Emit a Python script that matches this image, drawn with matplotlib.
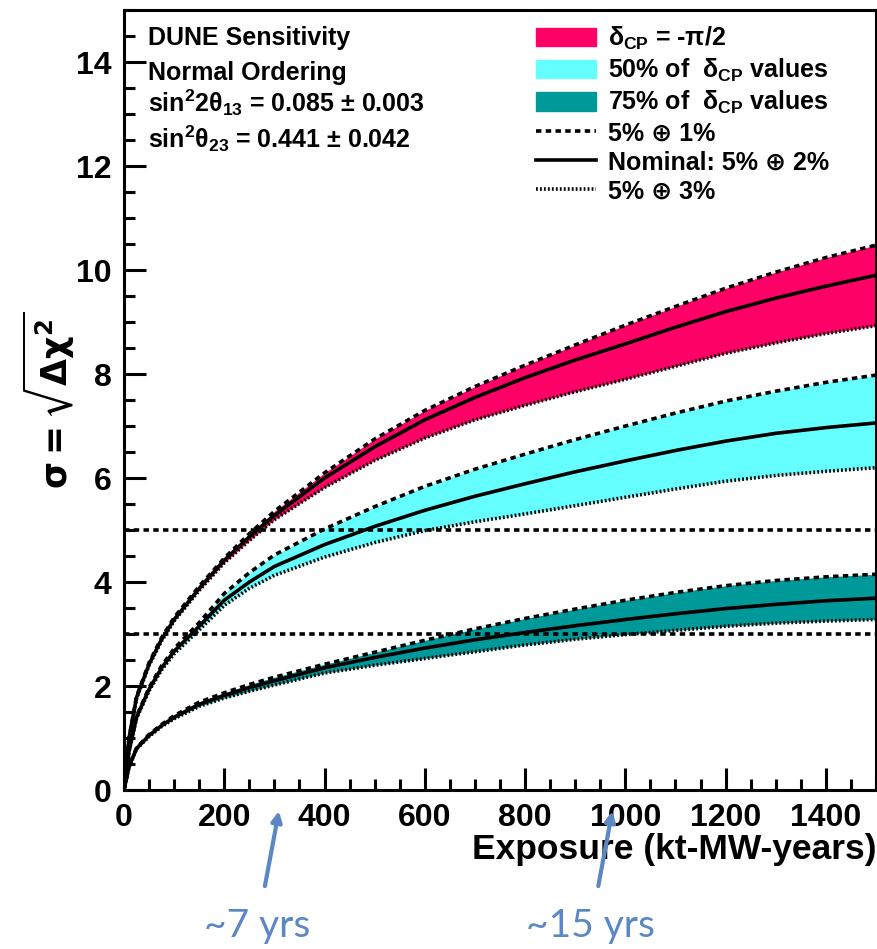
import numpy as np
import matplotlib
matplotlib.use('Agg')
import matplotlib.pyplot as plt
from matplotlib.patches import Patch
from matplotlib.lines import Line2D
from matplotlib.ticker import MultipleLocator

# font stile ROOT (Helvetica bold)
plt.rcParams['font.family'] = ['Liberation Sans', 'DejaVu Sans']
plt.rcParams['font.weight'] = 'bold'
plt.rcParams['axes.labelweight'] = 'bold'
plt.rcParams['mathtext.fontset'] = 'custom'
plt.rcParams['mathtext.rm'] = 'Liberation Sans:bold'
plt.rcParams['mathtext.it'] = 'Liberation Sans:bold'
plt.rcParams['mathtext.bf'] = 'Liberation Sans:bold'
plt.rcParams['mathtext.sf'] = 'Liberation Sans:bold'

# esposizione (kt-MW-anni)
exposure = [0, 10, 25, 50, 75, 100, 150, 200, 250, 300, 400, 500, 600, 700,
            800, 900, 1000, 1100, 1200, 1300, 1400, 1500]

# deltaCP = -pi/2
red_dashed = [0, 1.0, 1.8, 2.45, 2.93, 3.32, 3.92, 4.46, 4.93, 5.36, 6.1, 6.75,
              7.3, 7.76, 8.17, 8.56, 8.94, 9.3, 9.65, 9.96, 10.24, 10.48]
red_nominal = [0, 1.0, 1.78, 2.42, 2.9, 3.28, 3.88, 4.42, 4.87, 5.28, 6.0, 6.6,
               7.12, 7.55, 7.93, 8.27, 8.58, 8.9, 9.2, 9.46, 9.69, 9.9]
red_dotted = [0, 0.98, 1.76, 2.4, 2.87, 3.25, 3.84, 4.37, 4.8, 5.2, 5.82, 6.34,
              6.77, 7.12, 7.4, 7.66, 7.9, 8.15, 8.4, 8.6, 8.78, 8.93]

# 50% dei valori di deltaCP
cyan_dashed = [0, 0.76, 1.42, 1.97, 2.39, 2.72, 3.22, 3.78, 4.18, 4.52, 5.02, 5.45,
               5.84, 6.17, 6.46, 6.74, 7.0, 7.25, 7.48, 7.67, 7.84, 7.98]
cyan_nominal = [0, 0.75, 1.4, 1.94, 2.35, 2.67, 3.15, 3.65, 4.0, 4.3, 4.72, 5.07,
                5.38, 5.65, 5.89, 6.12, 6.33, 6.53, 6.71, 6.86, 6.97, 7.06]
cyan_dotted = [0, 0.74, 1.38, 1.91, 2.31, 2.62, 3.08, 3.55, 3.88, 4.13, 4.48, 4.76,
               4.99, 5.16, 5.31, 5.47, 5.63, 5.79, 5.94, 6.05, 6.13, 6.2]

# 75% dei valori di deltaCP
teal_dashed = [0, 0.46, 0.81, 1.07, 1.26, 1.43, 1.69, 1.87, 2.03, 2.17, 2.42, 2.65,
               2.88, 3.1, 3.3, 3.48, 3.65, 3.8, 3.93, 4.03, 4.1, 4.15]
teal_nominal = [0, 0.45, 0.8, 1.05, 1.24, 1.4, 1.65, 1.82, 1.97, 2.1, 2.35, 2.55,
                2.73, 2.89, 3.03, 3.16, 3.28, 3.39, 3.49, 3.57, 3.64, 3.69]
teal_dotted = [0, 0.44, 0.79, 1.03, 1.22, 1.37, 1.61, 1.77, 1.9, 2.02, 2.25, 2.4,
               2.53, 2.66, 2.79, 2.9, 2.99, 3.07, 3.15, 3.21, 3.25, 3.28]

sigma_lines = [3, 5]

# frecce "anni"
arrow_exposure = [310, 975]
arrow_labels = ['~7 yrs', '~15 yrs']

red = '#ff0066'
cyan = '#66ffff'
teal = '#009999'
blue = '#5b88c4'

dash = (0, (1.5, 1.2))
dots = (0, (0.5, 0.6))

fig = plt.figure(figsize=(8.77, 9.49), dpi=100)
ax = fig.add_axes([0.1414, 0.1675, 0.8575, 0.8219])

bands = [
    (red_dashed, red_nominal, red_dotted, red),
    (cyan_dashed, cyan_nominal, cyan_dotted, cyan),
    (teal_dashed, teal_nominal, teal_dotted, teal),
]
for up, nom, lo, col in bands:
    ax.fill_between(exposure, lo, up, color=col, lw=0)
    ax.plot(exposure, up, color='k', lw=2.6, linestyle=dash)
    ax.plot(exposure, nom, color='k', lw=2.6)
    ax.plot(exposure, lo, color='k', lw=2.6, linestyle=dots)

for s in sigma_lines:
    ax.axhline(s, color='k', lw=2.6, linestyle=dash)

ax.set_xlim(0, 1500)
ax.set_ylim(0, 15)
ax.xaxis.set_major_locator(MultipleLocator(200))
ax.xaxis.set_minor_locator(MultipleLocator(50))
ax.yaxis.set_major_locator(MultipleLocator(2))
ax.yaxis.set_minor_locator(MultipleLocator(0.5))
ax.tick_params(which='both', direction='in', width=2.2, top=False, right=False)
ax.tick_params(which='major', length=16, labelsize=23, pad=9)
ax.tick_params(which='minor', length=8)
for sp in ax.spines.values():
    sp.set_linewidth(2.2)

ax.set_xlabel('Exposure (kt-MW-years)', fontsize=25.5, fontweight='bold',
              loc='right', labelpad=0)
ax.set_ylabel(r'$\mathrm{\sigma} = \sqrt{\Delta\mathrm{\chi}^2}$', fontsize=25,
              fontweight='normal', math_fontfamily='dejavusans')
ax.yaxis.set_label_coords(-0.062, 0.5)

# testo in alto a sinistra
info = ['DUNE Sensitivity', 'Normal Ordering',
        r'sin$^2$2$\theta_{13}$ = 0.085 $\pm$ 0.003',
        r'sin$^2\theta_{23}$ = 0.441 $\pm$ 0.042']
info_y = [0.955, 0.910, 0.869, 0.824]
for t, yy in zip(info, info_y):
    ax.text(0.032, yy, t, transform=ax.transAxes, fontsize=18, va='baseline')

handles = [
    Patch(facecolor=red, edgecolor=red),
    Patch(facecolor=cyan, edgecolor=cyan),
    Patch(facecolor=teal, edgecolor=teal),
    Line2D([], [], color='k', lw=2.6, linestyle=dash),
    Line2D([], [], color='k', lw=2.6),
    Line2D([], [], color='k', lw=2.6, linestyle=dots),
]
labels = [r'$\delta_{CP}$ = -$\pi$/2',
          r'50% of  $\delta_{CP}$ values',
          r'75% of  $\delta_{CP}$ values',
          '5% \u2295 1%',
          'Nominal: 5% \u2295 2%',
          '5% \u2295 3%']
fig.legend(handles, labels, loc='upper left', bbox_to_anchor=(0.611, 0.974),
           frameon=False, fontsize=18, handlelength=2.4, handleheight=0.75,
           handletextpad=0.5, labelspacing=0.2, borderpad=0, borderaxespad=0)

# frecce e anni
for xe, lab in zip(arrow_exposure, arrow_labels):
    ax.annotate('', xy=(xe, -0.35), xytext=(xe - 30, -1.9),
                xycoords='data', textcoords='data', annotation_clip=False,
                arrowprops=dict(arrowstyle='-|>,head_length=0.6,head_width=0.3',
                                color=blue, lw=3))
    ax.text(xe - 45, -2.83, lab, color=blue, fontsize=28, fontweight='normal',
            family='Lato', ha='center', va='baseline', clip_on=False)

fig.savefig('out.png', dpi=100)
